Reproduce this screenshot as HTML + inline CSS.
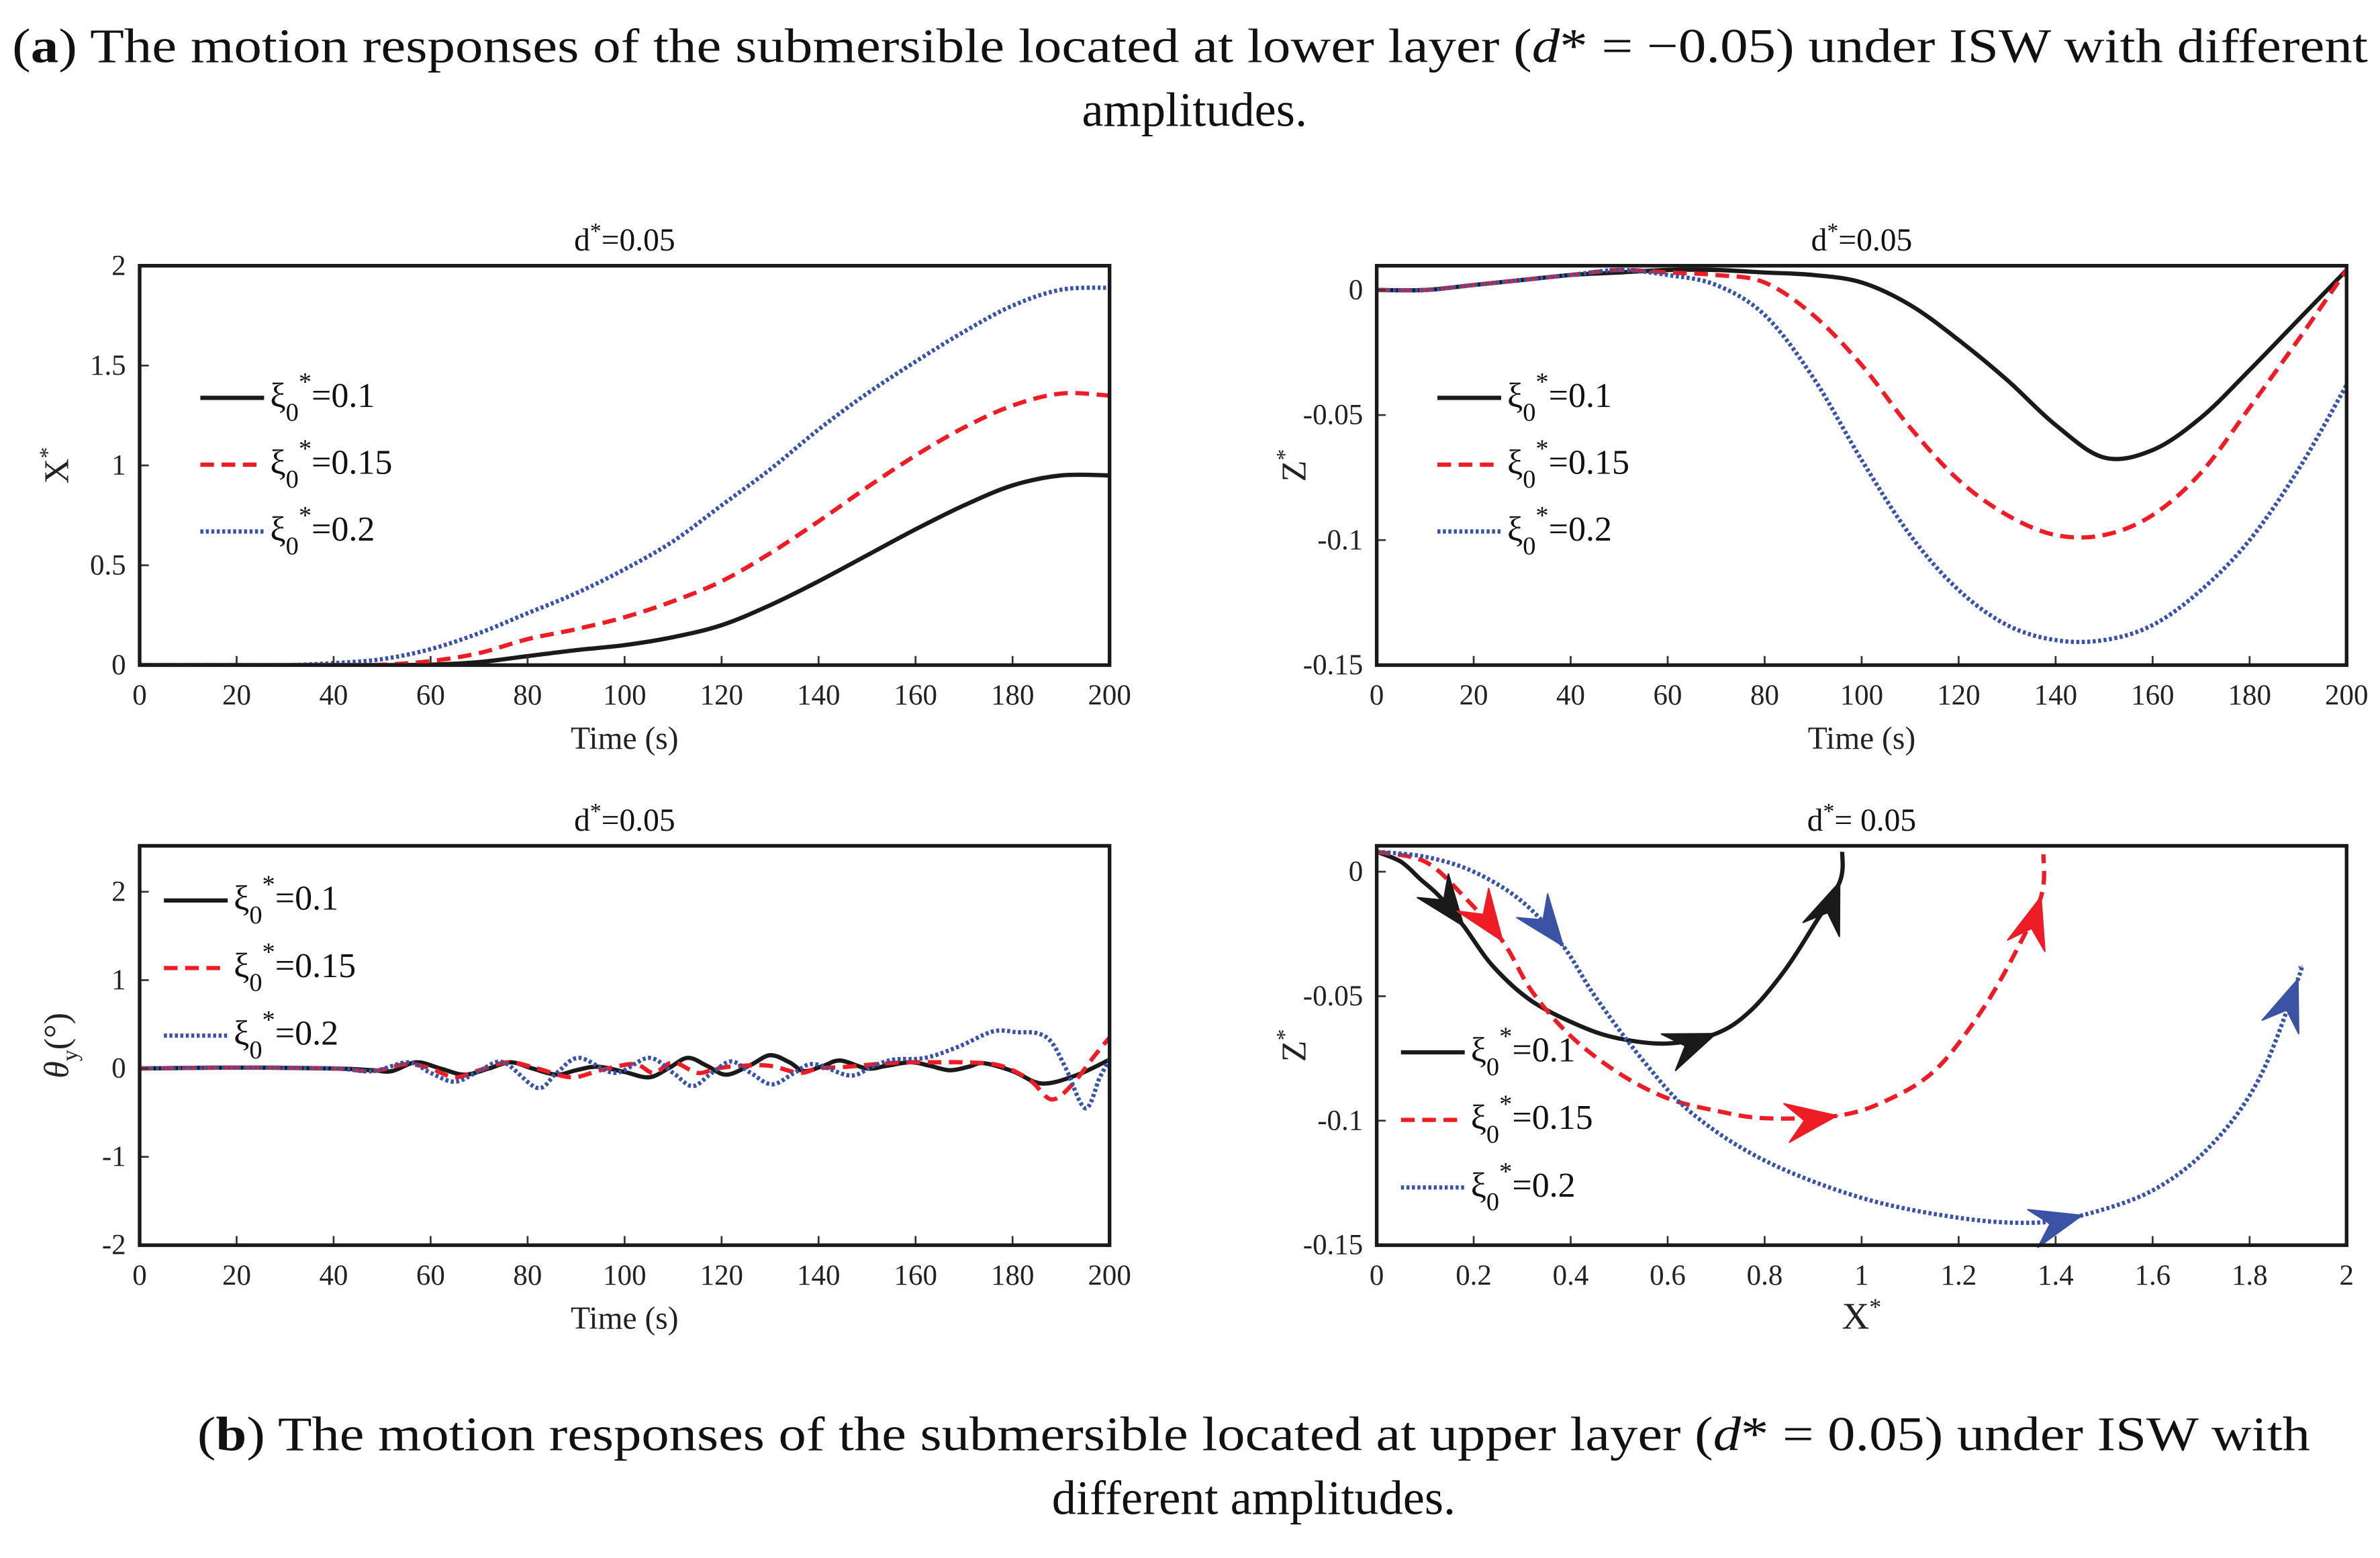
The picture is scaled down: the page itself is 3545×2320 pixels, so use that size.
<!DOCTYPE html>
<html><head><meta charset="utf-8">
<style>
html,body{margin:0;padding:0;background:#fff;}
svg{display:block;font-family:"Liberation Serif",serif;}
</style></head>
<body>
<svg id="fig" width="3545" height="2320" viewBox="0 0 1568 1026" preserveAspectRatio="none" xmlns="http://www.w3.org/2000/svg">
<text x="8" y="41" textLength="1552" lengthAdjust="spacingAndGlyphs" font-size="32" fill="#111">(<tspan font-weight="bold">a</tspan>) The motion responses of the submersible located at lower layer (<tspan font-style="italic">d</tspan>* = −0.05) under ISW with different</text>
<text x="787" y="83" text-anchor="middle" font-size="32" fill="#111">amplitudes.</text>
<text x="130" y="955" textLength="1392" lengthAdjust="spacingAndGlyphs" font-size="32" fill="#111">(<tspan font-weight="bold">b</tspan>) The motion responses of the submersible located at upper layer (<tspan font-style="italic">d</tspan>* = 0.05) under ISW with</text>
<text x="826" y="997" text-anchor="middle" font-size="32" fill="#111">different amplitudes.</text>
<g id="plots"></g>
</svg>
<script>
// ---- data ----
const timeGrid = [0,10,20,30,40,50,60,70,80,90,100,110,120,130,140,150,160,170,180,190,200];
const xBlack = [0,0,0,0,0,0,0.002,0.015,0.045,0.075,0.1,0.14,0.2,0.3,0.42,0.55,0.68,0.8,0.9,0.95,0.95];
const xRed   = [0,0,0,0,0,0.002,0.02,0.06,0.13,0.18,0.24,0.32,0.42,0.56,0.72,0.89,1.05,1.19,1.3,1.36,1.35];
const xBlue  = [0,0,0,0,0.01,0.03,0.08,0.16,0.26,0.36,0.48,0.62,0.8,0.98,1.18,1.36,1.52,1.67,1.8,1.88,1.89];
const zBlack = [0,0,0.002,0.004,0.006,0.007,0.008,0.008,0.007,0.006,0.003,-0.006,-0.02,-0.036,-0.054,-0.067,-0.064,-0.051,-0.032,-0.012,0.008];
const zRed   = [0,0,0.002,0.004,0.006,0.008,0.007,0.006,0.003,-0.01,-0.03,-0.055,-0.076,-0.09,-0.098,-0.098,-0.09,-0.073,-0.047,-0.02,0.008];
const zBlue  = [0,0,0.002,0.004,0.006,0.008,0.006,0.002,-0.01,-0.035,-0.068,-0.098,-0.12,-0.134,-0.14,-0.14,-0.134,-0.12,-0.1,-0.072,-0.038];
const thTimeBlack = [0,20,40,48,52,57,62,67,72,76.5,81,86,90,94.5,100,105,109,113,117,121,126,130,134,137,141,144.5,150,154,159,163,167,171,174,180,186,193,200];
const thBlack     = [0,0.01,0,-0.02,-0.03,0.07,0,-0.07,0,0.07,0,-0.07,-0.02,0.02,-0.04,-0.1,0,0.12,0.03,-0.07,0.04,0.15,0.07,-0.03,0.03,0.09,0,0.03,0.07,0.03,-0.02,0.02,0.06,-0.03,-0.17,-0.08,0.1];
const thTimeRed = [0,20,40,48,55,60,65,70,76,82,89,95,102,106,110,115,119,124,130,136,140,146,152,158,164,170,176,180,184,188,192,197,200];
const thRed     = [0,0.01,0,-0.03,0.05,0,-0.1,-0.02,0.07,0,-0.1,-0.02,0.05,-0.05,0.07,-0.05,0,0.03,0.03,-0.05,0,0.02,0.05,0.07,0.07,0.07,0.05,-0.02,-0.15,-0.35,-0.2,0.15,0.35];
const thTimeBlue = [0,20,40,48,55.4,60,65,70,75,82,86,90.6,98,105,110,114,118,122,126,130.4,135,139,146.5,151,155.4,162,169,176,181,185,188,191,195,198,200];
const thBlue     = [0,0.01,0,-0.03,0.07,-0.05,-0.15,-0.03,0.07,-0.22,-0.05,0.12,-0.05,0.12,-0.05,-0.2,-0.05,0.08,-0.05,-0.18,-0.05,0.05,-0.08,0.02,0.1,0.12,0.25,0.42,0.41,0.4,0.3,0,-0.45,-0.1,0.1];
const trXBlack = [0,0.05,0.09,0.13,0.18,0.24,0.32,0.42,0.5,0.6,0.7,0.77,0.84,0.9,0.955,0.96];
const trZBlack = [0.008,0.004,-0.003,-0.01,-0.022,-0.038,-0.052,-0.062,-0.067,-0.069,-0.065,-0.056,-0.04,-0.022,-0.004,0.008];
const trXRed = [0,0.1,0.18,0.26,0.32,0.4,0.5,0.6,0.7,0.8,0.95,1.05,1.15,1.24,1.31,1.37,1.375];
const trZRed = [0.008,0.004,-0.01,-0.028,-0.048,-0.066,-0.081,-0.091,-0.096,-0.099,-0.098,-0.092,-0.08,-0.058,-0.035,-0.01,0.007];
const trXBlue = [0,0.1,0.2,0.3,0.385,0.45,0.55,0.65,0.8,1.0,1.2,1.35,1.455,1.6,1.72,1.82,1.9,1.905];
const trZBlue = [0.008,0.006,0,-0.012,-0.03,-0.05,-0.076,-0.097,-0.116,-0.131,-0.139,-0.141,-0.138,-0.128,-0.11,-0.083,-0.043,-0.038];
const arrowBlack = [4,10,14];
const arrowRed = [3,10,15];
const arrowBlue = [4,12,16];
const legendLabels = ["0.1","0.15","0.2"];
const tickTime = [0,20,40,60,80,100,120,140,160,180,200];
const tickX = [0,0.5,1,1.5,2];
const tickZ = [0,-0.05,-0.1,-0.15];
const tickTh = [2,1,0,-1,-2];
const tickTrX = [0,0.2,0.4,0.6,0.8,1,1.2,1.4,1.6,1.8,2];

const NS="http://www.w3.org/2000/svg";
const root=document.getElementById('plots');
const COLORS=["#1a1a1a","#ee1c25","#3a53a4"];
const DASH=["none","9 5","2 1.6"];
function mk(tag,attrs,parent){const e=document.createElementNS(NS,tag);for(const k in attrs)e.setAttribute(k,attrs[k]);(parent||root).appendChild(e);return e;}
function smoothPath(pts){
  let d="M"+pts[0][0].toFixed(2)+","+pts[0][1].toFixed(2);
  for(let i=0;i<pts.length-1;i++){
    const p0=pts[i-1]||pts[i],p1=pts[i],p2=pts[i+1],p3=pts[i+2]||p2;
    const c1=[p1[0]+(p2[0]-p0[0])/6,p1[1]+(p2[1]-p0[1])/6];
    const c2=[p2[0]-(p3[0]-p1[0])/6,p2[1]-(p3[1]-p1[1])/6];
    d+=" C"+c1[0].toFixed(2)+","+c1[1].toFixed(2)+" "+c2[0].toFixed(2)+","+c2[1].toFixed(2)+" "+p2[0].toFixed(2)+","+p2[1].toFixed(2);
  }
  return d;
}
function fmt(v){return String(v);}
function axes(P){
  const g=mk('g',{});
  
  
  const sx=v=>P.x0+(v-P.xmin)/(P.xmax-P.xmin)*(P.x1-P.x0);
  const sy=v=>P.y1-(v-P.ymin)/(P.ymax-P.ymin)*(P.y1-P.y0);
  P.sx=sx;P.sy=sy;P.g=g;
  const clipId=P.name+"-clip";
  const cp=mk('clipPath',{id:clipId},g);
  mk('rect',{x:P.x0,y:P.y0,width:P.x1-P.x0,height:P.y1-P.y0},cp);
  P.plotG=mk('g',{'clip-path':'url(#'+clipId+')'},g);
  P.xt.forEach(v=>{
    const x=sx(v);
    const t=mk('line',{x1:x,x2:x,y1:P.y1,y2:P.y1-6,stroke:"#333","stroke-width":1.2},g);
    
    
    const tl=mk('text',{x:x,y:P.y1+26,'text-anchor':'middle','font-size':19,fill:'#222'},g);
    
    
    tl.textContent=fmt(v);
  });
  P.yt.forEach(v=>{
    const y=sy(v);
    const t=mk('line',{x1:P.x0,x2:P.x0+6,y1:y,y2:y,stroke:"#333","stroke-width":1.2},g);
    
    
    const tl=mk('text',{x:P.x0-9,y:y+6,'text-anchor':'end','font-size':19,fill:'#222'},g);
    
    
    tl.textContent=fmt(v);
  });
  const ttl=mk('text',{x:(P.x0+P.x1)/2,y:P.y0-10,'text-anchor':'middle','font-size':21,fill:'#111'},g);
  
  
  ttl.innerHTML='d<tspan dy="-8" font-size="15">*</tspan><tspan dy="8">'+(P.title2?'= 0.05':'=0.05')+'</tspan>';
  const xl=mk('text',{x:(P.x0+P.x1)/2,y:P.y1+55,'text-anchor':'middle','font-size':P.xlSize||21,fill:'#222'},g);
  
  
  xl.innerHTML=P.xlabel;
  const yl=mk('text',{x:0,y:0,'text-anchor':'middle','font-size':23,fill:'#222',transform:'translate('+(P.x0-47)+','+((P.y0+P.y1)/2)+') rotate(-90)'},g);
  
  
  yl.innerHTML=P.ylabel;
  return g;
}
function frame(P){
  const b=mk('rect',{x:P.x0,y:P.y0,width:P.x1-P.x0,height:P.y1-P.y0,fill:'none',stroke:'#1a1a1a','stroke-width':2.4},P.g);
  
  
}
function series(P,xs,ys,i,name){
  const pts=xs.map((x,k)=>[P.sx(x),P.sy(ys[k])]);
  const p=mk('path',{d:smoothPath(pts),fill:'none',stroke:COLORS[i],'stroke-width':2.8,'stroke-dasharray':DASH[i]},P.plotG);
  
  
  return pts;
}
function legend(P,lx,ly,gap){
  legendLabels.forEach((lab,i)=>{
    const y=ly+i*gap;
    const gg=mk('g',{},P.g);
    
    
    mk('line',{x1:lx,x2:lx+42,y1:y,y2:y,stroke:COLORS[i],'stroke-width':2.8,'stroke-dasharray':DASH[i]},gg);
    const t=mk('text',{x:lx+46,y:y+6,'font-size':23,fill:'#111'},gg);
    t.innerHTML='ξ<tspan dy="9" font-size="17">0</tspan><tspan dy="-20" font-size="17">*</tspan><tspan dy="11">='+lab+'</tspan>';
  });
}
function arrow(P,pts,k,col,name){
  const tip=pts[k],a=pts[k-1],b=pts[k+1]||pts[k];
  let dx=b[0]-a[0],dy=b[1]-a[1];const L=Math.hypot(dx,dy)||1;dx/=L;dy/=L;
  const nx=-dy,ny=dx,len=34,w=13,notch=22;
  const p1=[tip[0]-dx*len+nx*w,tip[1]-dy*len+ny*w];
  const p2=[tip[0]-dx*notch,tip[1]-dy*notch];
  const p3=[tip[0]-dx*len-nx*w,tip[1]-dy*len-ny*w];
  const e=mk('polygon',{points:[tip,p1,p2,p3].map(p=>p[0].toFixed(1)+","+p[1].toFixed(1)).join(" "),fill:col,stroke:col,'stroke-width':0.8},P.g);
  
  
}
const P1={name:'chart-x-time',x0:92,x1:731,y0:175,y1:438,xmin:0,xmax:200,ymin:0,ymax:2,xt:tickTime,yt:tickX,xlabel:'Time (s)',ylabel:'X<tspan dy="-9" font-size="15">*</tspan>'};
axes(P1);
series(P1,timeGrid,xBlack,0,'line-x-0.1');series(P1,timeGrid,xRed,1,'line-x-0.15');series(P1,timeGrid,xBlue,2,'line-x-0.2');
legend(P1,132,262,44);frame(P1);
const P2={name:'chart-z-time',x0:907,x1:1546,y0:175,y1:438,xmin:0,xmax:200,ymin:-0.15,ymax:0.0097,xt:tickTime,yt:tickZ,xlabel:'Time (s)',ylabel:'Z<tspan dy="-9" font-size="15">*</tspan>'};
axes(P2);
series(P2,timeGrid,zBlack,0,'line-z-0.1');series(P2,timeGrid,zRed,1,'line-z-0.15');series(P2,timeGrid,zBlue,2,'line-z-0.2');
legend(P2,947,262,44);frame(P2);
const P3={name:'chart-theta-time',x0:92,x1:731,y0:557,y1:820,xmin:0,xmax:200,ymin:-2,ymax:2.52,xt:tickTime,yt:tickTh,xlabel:'Time (s)',ylabel:'<tspan font-style="italic">θ</tspan><tspan dy="6" font-size="15">y</tspan><tspan dy="-6">(°)</tspan>'};
axes(P3);
series(P3,thTimeBlack,thBlack,0,'line-theta-0.1');series(P3,thTimeRed,thRed,1,'line-theta-0.15');series(P3,thTimeBlue,thBlue,2,'line-theta-0.2');
legend(P3,108,593,44.5);frame(P3);
const P4={name:'chart-trajectory',x0:907,x1:1546,y0:557,y1:820,xmin:0,xmax:2,ymin:-0.15,ymax:0.0104,xt:tickTrX,yt:tickZ,xlabel:'X<tspan dy="-9" font-size="16">*</tspan>',xlSize:25,ylabel:'Z<tspan dy="-9" font-size="15">*</tspan>',title2:true};
axes(P4);
const tb=series(P4,trXBlack,trZBlack,0,'trajectory-0.1');
const tr=series(P4,trXRed,trZRed,1,'trajectory-0.15');
const tu=series(P4,trXBlue,trZBlue,2,'trajectory-0.2');
arrowBlack.forEach(k=>arrow(P4,tb,k,COLORS[0],'arrow-black'));
arrowRed.forEach(k=>arrow(P4,tr,k,COLORS[1],'arrow-red'));
arrowBlue.forEach(k=>arrow(P4,tu,k,COLORS[2],'arrow-blue'));
legend(P4,923,693,44.5);frame(P4);
</script>
</body></html>
